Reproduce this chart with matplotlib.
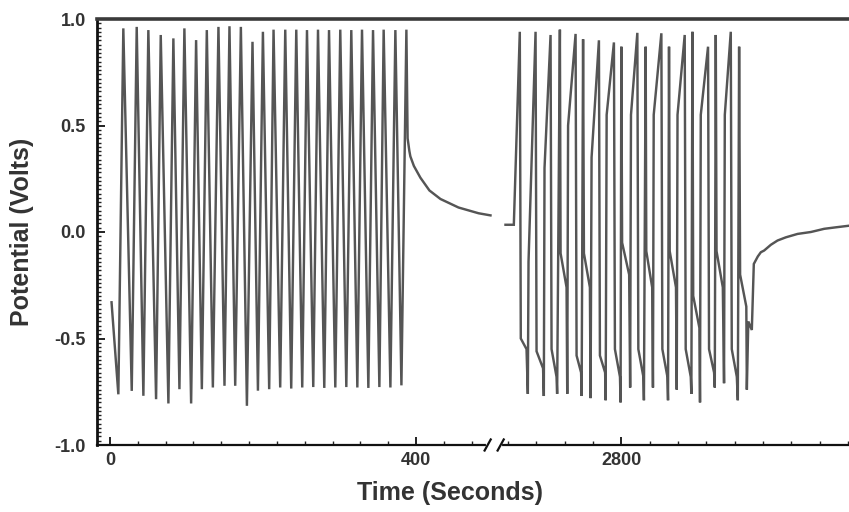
import numpy as np
import matplotlib
matplotlib.use("Agg")
import matplotlib.pyplot as plt
import matplotlib.transforms as mtransforms
from matplotlib.ticker import FixedLocator, MultipleLocator

# Early record (0-500 s): start, then alternating minimum / maximum, then relaxation
early_time = [2.0,
              10.9, 17.4, 28.4, 34.9, 43.6, 50.1, 60.2, 66.3, 76.3, 82.8,
              90.7, 97.2, 106.0, 112.5, 120.0, 126.5, 134.4, 141.7, 149.6, 156.1,
              163.6, 171.0, 178.9, 186.2, 193.3, 199.8, 208.0, 213.7, 222.4, 229.0,
              236.8, 243.4, 251.2, 257.4, 265.6, 271.8, 280.0, 286.2, 294.4, 300.9,
              308.8, 315.3, 323.2, 329.3, 337.6, 343.7, 352.0, 357.6, 366.4, 372.9,
              380.8, 387.3,
              388.9, 391.2, 392.5, 397.1, 405.6, 417.4, 431.8, 455.4, 481.6, 497.2]
early_volts = [-0.33,
               -0.762, 0.956, -0.746, 0.963, -0.769, 0.948, -0.785, 0.925, -0.805, 0.909,
               -0.738, 0.956, -0.805, 0.901, -0.738, 0.948, -0.730, 0.963, -0.722, 0.966,
               -0.722, 0.963, -0.816, 0.893, -0.745, 0.940, -0.738, 0.950, -0.730, 0.950,
               -0.735, 0.950, -0.730, 0.948, -0.728, 0.950, -0.732, 0.948, -0.730, 0.950,
               -0.728, 0.948, -0.730, 0.950, -0.732, 0.948, -0.728, 0.950, -0.730, 0.948,
               -0.720, 0.950,
               0.440, 0.380, 0.355, 0.310, 0.255, 0.195, 0.155, 0.115, 0.088, 0.078]

# Late record (2650-3100 s)
late_time = [2648.6, 2659.5, 2667.3, 2668.6, 2676.1, 2677.8, 2678.7, 2687.9, 2689.2, 2697.7,
             2698.7, 2699.6, 2707.5, 2708.8, 2715.3, 2716.1, 2719.7, 2720.6, 2728.4, 2729.3,
             2730.4, 2740.2, 2741.5, 2747.4, 2748.1, 2750.0, 2751.1, 2758.9, 2759.8, 2761.1,
             2770.7, 2772.0, 2778.8, 2779.5, 2780.8, 2790.3, 2791.6, 2798.2, 2799.0, 2800.0,
             2801.0, 2810.2, 2811.5, 2812.6, 2820.9, 2822.2, 2828.8, 2829.5, 2831.8, 2832.6,
             2840.3, 2841.3, 2842.3, 2852.3, 2853.6, 2860.2, 2861.0, 2862.3, 2863.2, 2871.4,
             2872.4, 2873.4, 2882.8, 2884.1, 2890.7, 2891.5, 2892.9, 2893.9, 2902.0, 2902.8,
             2903.8, 2913.3, 2914.6, 2921.2, 2922.1, 2923.4, 2924.4, 2932.6, 2934.2, 2935.2,
             2943.0, 2944.3, 2950.9, 2952.2, 2953.9, 2955.2, 2963.3, 2964.0, 2965.9, 2970.5,
             2973.1, 2978.3, 2982.3, 2986.6, 2995.4, 3004.1, 3015.0, 3030.3, 3047.7, 3065.1,
             3080.4, 3098.7]
late_volts = [0.034, 0.034, 0.940, -0.500, -0.550, -0.760, -0.140, 0.940, -0.560, -0.640,
              -0.770, 0.300, 0.925, -0.550, -0.680, -0.760, 0.950, -0.100, -0.260, -0.760,
              0.500, 0.930, -0.580, -0.660, -0.770, 0.905, -0.100, -0.260, -0.780, 0.350,
              0.900, -0.580, -0.660, -0.790, 0.550, 0.890, -0.550, -0.680, -0.800, 0.870,
              -0.050, -0.200, -0.730, 0.550, 0.935, -0.550, -0.680, -0.790, 0.870, -0.090,
              -0.260, -0.730, 0.550, 0.933, -0.550, -0.680, -0.790, 0.870, -0.090, -0.260,
              -0.740, 0.550, 0.925, -0.550, -0.680, -0.760, 0.940, -0.300, -0.450, -0.800,
              0.550, 0.870, -0.550, -0.660, -0.730, 0.925, -0.090, -0.260, -0.710, 0.550,
              0.940, -0.550, -0.680, -0.790, 0.870, -0.200, -0.350, -0.740, -0.420, -0.460,
              -0.150, -0.115, -0.095, -0.087, -0.060, -0.040, -0.025, -0.009, 0.000, 0.015,
              0.022, 0.030]

x_tick_times = [0, 400, 2800]
x_tick_labels = ["0", "400", "2800"]
y_ticks = [-1.0, -0.5, 0.0, 0.5, 1.0]
y_tick_labels = ["-1.0", "-0.5", "0.0", "0.5", "1.0"]

# seconds cut out of the time axis at the break
GAP = 2131.8
BREAK_AT = 502.0


def to_axis(t):
    t = np.asarray(t, dtype=float)
    return np.where(t > 1000, t - GAP, t)


plt.rcParams["font.family"] = ["Liberation Sans", "DejaVu Sans"]

fig = plt.figure(figsize=(8.49, 5.12), dpi=100)
ax = fig.add_axes([97 / 849, 67 / 512, 753 / 849, 426 / 512])

line_kw = dict(color="#555555", lw=1.75, solid_joinstyle="miter")
ax.plot(to_axis(early_time), early_volts, **line_kw)
ax.plot(to_axis(late_time), late_volts, **line_kw)

ax.set_xlim(-17.0, 967.0)
ax.set_ylim(-1.0, 1.0)

# ticks
ax.xaxis.set_major_locator(FixedLocator(to_axis(x_tick_times)))
ax.set_xticklabels(x_tick_labels)
minor_left = [k * 400 / 11 for k in range(0, 14)]
minor_right = [2800 + k * 37.0 for k in range(-4, 9)]
ax.xaxis.set_minor_locator(FixedLocator(list(to_axis(minor_left)) + list(to_axis(minor_right))))
ax.set_yticks(y_ticks)
ax.set_yticklabels(y_tick_labels)
ax.yaxis.set_minor_locator(MultipleLocator(0.02))

tick_col = "#333333"
ax.tick_params(axis="both", which="major", direction="in", length=6, width=1.4,
               color="#222222", labelsize=13, labelcolor=tick_col)
ax.tick_params(axis="both", which="minor", direction="in", length=3, width=1.0,
               color="#222222")
ax.tick_params(axis="x", which="major", pad=5)
ax.tick_params(axis="y", which="major", pad=8)
for lab in ax.get_xticklabels() + ax.get_yticklabels():
    lab.set_fontweight("bold")

# frame
ax.spines["right"].set_visible(False)
ax.spines["left"].set_linewidth(2.0)
ax.spines["left"].set_color("#111111")
ax.spines["bottom"].set_linewidth(1.6)
ax.spines["bottom"].set_color("#111111")
ax.spines["top"].set_linewidth(2.6)
ax.spines["top"].set_color("#3a3a3a")

# axis break marks on the time axis
trans = mtransforms.blended_transform_factory(ax.transData, ax.transAxes)
ax.plot([BREAK_AT - 8, BREAK_AT + 8], [0, 0], color="white", lw=3.0,
        transform=trans, clip_on=False, zorder=5)
for off in (-8.5, 8.5):
    ax.plot([BREAK_AT + off - 4, BREAK_AT + off + 4], [-0.013, 0.013],
            color="#111111", lw=1.6, transform=trans, clip_on=False, zorder=6)

ax.set_xlabel("Time (Seconds)", fontsize=18, fontweight="bold", color="#333333")
ax.set_ylabel("Potential (Volts)", fontsize=18, fontweight="bold", color="#333333")
ax.xaxis.set_label_coords((450 - 97) / 753, -0.085)
ax.yaxis.set_label_coords((34 - 97) / 753, 0.5)

fig.savefig("out.png", dpi=100)
